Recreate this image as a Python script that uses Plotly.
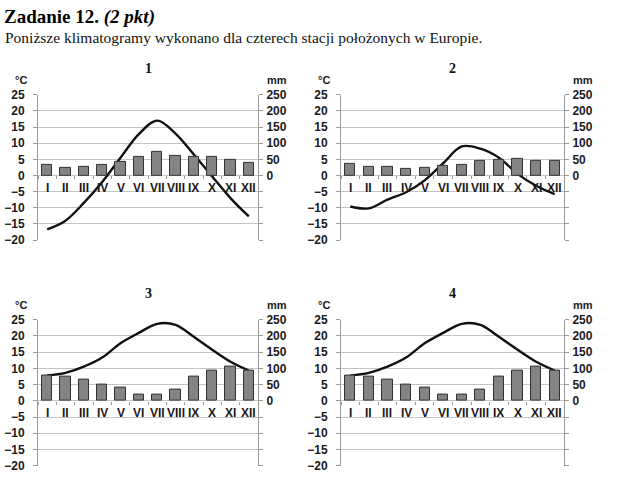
import plotly.graph_objects as go

months = ["I", "II", "III", "IV", "V", "VI", "VII", "VIII", "IX", "X", "XI", "XII"]
chart_titles = ["1", "2", "3", "4"]

temp_1 = [-16.7, -14.0, -8.5, -2.0, 5.5, 12.8, 17.0, 13.0, 6.5, -0.3, -7.0, -12.7]
prec_1 = [33, 25, 26, 33, 41, 58, 72, 60, 57, 57, 47, 38]

temp_2 = [-9.6, -10.2, -7.5, -5.2, -1.5, 3.8, 9.0, 8.3, 5.5, 0.5, -3.2, -5.8]
prec_2 = [37, 28, 26, 22, 23, 31, 34, 46, 48, 52, 44, 46]

temp_3 = [7.8, 8.6, 10.5, 13.3, 17.7, 20.9, 23.7, 23.4, 19.7, 15.7, 12.0, 9.3]
prec_3 = [79, 73, 64, 49, 42, 18, 19, 35, 74, 94, 104, 94]

temp_4 = [7.8, 8.6, 10.5, 13.3, 17.7, 20.9, 23.7, 23.4, 19.7, 15.7, 12.0, 9.3]
prec_4 = [79, 73, 64, 49, 42, 18, 19, 35, 74, 94, 104, 94]

temps = [temp_1, temp_2, temp_3, temp_4]
precs = [prec_1, prec_2, prec_3, prec_4]

left_ticks = [-20, -15, -10, -5, 0, 5, 10, 15, 20, 25]
right_ticks = [-200, -150, -100, -50, 0, 50, 100, 150, 200, 250]

W, H = 640, 480


def py2paper(py):
    return min(1.0, max(0.0, 1 - py / H))


# plot areas in pixels: (x0, x1, ytop, ybottom, unit-label offset)
boxes = [(38, 258, 90.5, 240, 15.0), (341, 564, 90.5, 240, 15.0),
         (38, 258, 322, 472.5, 14.7), (341, 564, 322, 472.5, 14.7)]

FONT = "Liberation Sans"
SERIF = "Liberation Serif"
GRID = "#c4c4c4"
AX = "#9a9a9a"

fig = go.Figure()
layout = {}
annotations = []


def ann(px, py, text, font, xanchor="left"):
    return dict(x=px / W, y=py2paper(py), xref="paper", yref="paper", text=text,
                showarrow=False, xanchor=xanchor, yanchor="middle", font=font)


for k in range(4):
    x0, x1, yt, yb, uoff = boxes[k]
    xd = [x0 / W, x1 / W]
    yd = [py2paper(yb), py2paper(yt)]
    xn = "x" if k == 0 else f"x{k+1}"
    yl = "y" if k == 0 else f"y{2*k+1}"
    yr = f"y{2*k+2}"
    xkey = "xaxis" if k == 0 else f"xaxis{k+1}"
    ylkey = "yaxis" if k == 0 else f"yaxis{2*k+1}"
    yrkey = f"yaxis{2*k+2}"
    xs = list(range(1, 13))

    fig.add_trace(go.Bar(x=xs, y=precs[k], xaxis=xn, yaxis=yr, width=0.55,
                         marker=dict(color="#848484", line=dict(color="#333333", width=1)),
                         showlegend=False))
    fig.add_trace(go.Scatter(x=xs, y=temps[k], xaxis=xn, yaxis=yl, mode="lines",
                             line=dict(color="#111111", width=2.4, shape="spline", smoothing=1.0),
                             showlegend=False))

    zero_pos = yd[0] + (0 - (-20)) / 45 * (yd[1] - yd[0])
    layout[xkey] = dict(domain=xd, range=[0.5, 12.5], anchor="free", position=zero_pos,
                        tickvals=[i + 0.5 for i in range(13)], ticktext=[""] * 13,
                        ticks="outside", ticklen=3, tickcolor=AX, showgrid=False,
                        zeroline=False, showline=False, fixedrange=True)
    layout[ylkey] = dict(domain=yd, range=[-20, 25], anchor=xn, tickvals=left_ticks,
                         ticks="outside", ticklen=4, tickcolor=AX, showline=True, linecolor=AX,
                         showgrid=True, gridcolor=GRID, gridwidth=1, zeroline=True,
                         zerolinecolor=GRID, zerolinewidth=1, ticklabelstandoff=6,
                         tickfont=dict(family=FONT, size=12, color="#1a1a1a", weight="bold"))
    layout[yrkey] = dict(range=[-200, 250], overlaying=yl, side="right", anchor=xn,
                         tickvals=right_ticks,
                         ticktext=[str(v) if v >= 0 else "" for v in right_ticks],
                         ticks="outside", ticklen=4, tickcolor=AX, showline=True, linecolor=AX,
                         showgrid=False, zeroline=False, ticklabelstandoff=1,
                         tickfont=dict(family=FONT, size=12, color="#1a1a1a", weight="bold"))

    for i, m in enumerate(months):
        annotations.append(dict(x=i + 1, y=-3.9, xref=xn, yref=yl, text=m, showarrow=False,
                                xanchor="center", yanchor="middle",
                                font=dict(family=FONT, size=12, color="#1a1a1a", weight="bold")))

    annotations.append(ann((x0 + x1) / 2, yt - 27, chart_titles[k],
                           dict(family=SERIF, size=14, color="#111", weight="bold"), "center"))
    annotations.append(ann(x0 - 25, yt - uoff, "°C",
                           dict(family=FONT, size=11, color="#1a1a1a", weight="bold")))
    annotations.append(ann(x1 + 7, yt - uoff, "mm",
                           dict(family=FONT, size=11, color="#1a1a1a", weight="bold")))

annotations.append(ann(2, 10.5, "<b>Zadanie 12. <i>(2 pkt)</i></b>",
                       dict(family=SERIF, size=19, color="#000")))
annotations.append(ann(3, 31.5, "Poniższe klimatogramy wykonano dla czterech stacji położonych w Europie.",
                       dict(family=SERIF, size=15.5, color="#111")))

fig.update_layout(width=W, height=H, margin=dict(l=0, r=0, t=0, b=0),
                  paper_bgcolor="white", plot_bgcolor="white", bargap=0,
                  annotations=annotations, **layout)

fig.write_html("out.html")
